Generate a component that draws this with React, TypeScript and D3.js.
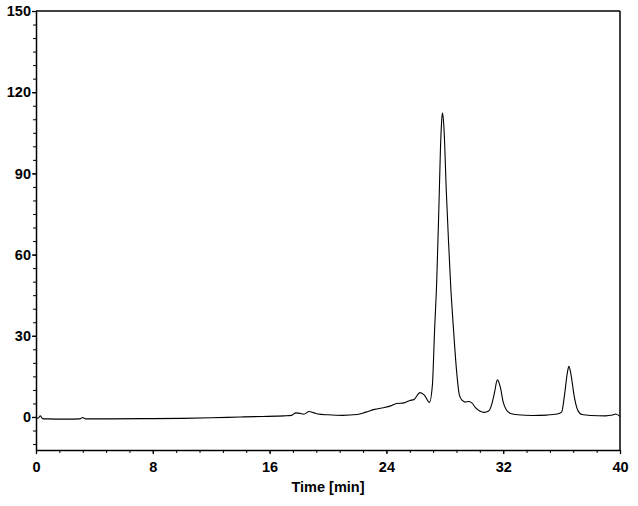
import React, { useRef, useEffect } from 'react';
import * as d3 from 'd3';

// retention time (min) and detector signal
const times = [
  0, 0.15, 0.3, 0.45, 0.8, 2, 3.0, 3.2, 3.4, 5, 8, 10, 12, 14, 15.5, 16.5, 17, 17.5,
  17.8, 18.1, 18.35, 18.7, 19.0, 19.3, 20, 21, 22, 22.6, 23.2, 23.8, 24.3, 24.7, 25.2,
  25.6, 25.9, 26.3, 26.6, 26.95, 27.15, 27.3, 27.45, 27.6, 27.7, 27.8, 27.85, 27.95,
  28.1, 28.25, 28.4, 28.6, 28.8, 29.0, 29.2, 29.4, 29.6, 29.85, 30.1, 30.4, 30.7, 31.0,
  31.2, 31.4, 31.6, 31.8, 32.0, 32.2, 32.5, 33.0, 34.0, 35.0, 35.7, 36.0, 36.2, 36.4,
  36.5, 36.65, 36.85, 37.1, 37.4, 38, 39, 39.5, 39.7, 40,
];
const signal = [
  -0.5, -0.4, 0.4, -0.6, -0.7, -0.8, -0.7, -0.2, -0.7, -0.7, -0.6, -0.5, -0.3, 0.0, 0.2, 0.3, 0.4, 0.6,
  1.5, 1.3, 1.0, 2.0, 1.6, 1.1, 0.8, 0.6, 0.9, 1.8, 2.8, 3.4, 4.1, 5.0, 5.2,
  6.1, 6.5, 9.0, 8.1, 5.4, 11.8, 32, 50.6, 78.3, 98.6, 110.5, 112.3, 106,
  83.9, 65.4, 48.8, 32.1, 17.4, 8.1, 6.1, 5.5, 5.7, 5.2, 3.5, 2.2, 1.7, 2.2,
  4.4, 8.9, 13.7, 11.1, 5.5, 2.8, 1.3, 0.8, 0.55, 0.7, 1.1, 1.8, 8.1, 16.6,
  18.7, 15.5, 8.1, 2.6, 0.9, 0.55, 0.4, 0.7, 1.1, 0.2,
];

const xTicks = [0, 8, 16, 24, 32, 40];
const yTicks = [0, 30, 60, 90, 120, 150];
const xMinorStep = 1.6;
const yMinorStep = 5;
const xLabel = 'Time [min]';

const Chromatogram = () => {
  const svgRef = useRef<SVGSVGElement | null>(null);

  useEffect(() => {
    const svg = d3.select(svgRef.current);
    svg.selectAll('*').remove();

    const width = 638;
    const height = 506;
    const margin = { top: 11, right: 18, bottom: 56, left: 36 };
    const w = width - margin.left - margin.right;
    const h = height - margin.top - margin.bottom;

    const x = d3.scaleLinear().domain([0, 40]).range([0, w]);
    const y = d3.scaleLinear().domain([-12.2, 150]).range([h, 0]);

    const g = svg.append('g').attr('transform', `translate(${margin.left},${margin.top})`);
    const font = '"Liberation Sans", Arial, sans-serif';

    // minor ticks
    const xMinor = d3.range(0, 40 + 0.001, xMinorStep);
    const yMinor = d3.range(-10, 150 + 0.001, yMinorStep);

    g.append('g')
      .attr('transform', `translate(0,${h})`)
      .call(d3.axisBottom(x).tickValues(xMinor).tickSize(3).tickFormat(() => ''))
      .call(a => a.select('.domain').remove())
      .selectAll('line').attr('stroke', '#000').attr('stroke-width', 1);

    g.append('g')
      .call(d3.axisLeft(y).tickValues(yMinor).tickSize(3).tickFormat(() => ''))
      .call(a => a.select('.domain').remove())
      .selectAll('line').attr('stroke', '#000').attr('stroke-width', 1);

    // major axes
    const xAxis = g.append('g')
      .attr('transform', `translate(0,${h})`)
      .call(d3.axisBottom(x).tickValues(xTicks).tickSize(4).tickSizeOuter(0).tickPadding(8));
    const yAxis = g.append('g')
      .call(d3.axisLeft(y).tickValues(yTicks).tickSize(4).tickSizeOuter(0).tickPadding(1));

    [xAxis, yAxis].forEach(a => {
      a.select('.domain').attr('stroke', '#000').attr('stroke-width', 1.5);
      a.selectAll('line').attr('stroke', '#000').attr('stroke-width', 1.3);
      a.selectAll('text')
        .attr('fill', '#000')
        .style('font-family', font)
        .style('font-size', '14.5px')
        .style('font-weight', 'bold');
    });

    // top and right frame
    g.append('line').attr('x1', 0).attr('x2', w).attr('y1', 0).attr('y2', 0)
      .attr('stroke', '#000').attr('stroke-width', 1.5);
    g.append('line').attr('x1', w).attr('x2', w).attr('y1', 0).attr('y2', h)
      .attr('stroke', '#000').attr('stroke-width', 1.5);

    // trace
    const pts: [number, number][] = times.map((t, i) => [t, signal[i]]);
    const line = d3.line<[number, number]>()
      .x(d => x(d[0]))
      .y(d => y(d[1]))
      .curve(d3.curveMonotoneX);

    g.append('path')
      .datum(pts)
      .attr('fill', 'none')
      .attr('stroke', '#000')
      .attr('stroke-width', 1.1)
      .attr('d', line);

    svg.append('text')
      .attr('x', margin.left + w / 2)
      .attr('y', 492)
      .attr('text-anchor', 'middle')
      .style('font-family', font)
      .style('font-size', '14.5px')
      .style('font-weight', 'bold')
      .text(xLabel);
  }, []);

  return (
    <svg
      ref={svgRef}
      width={638}
      height={506}
      style={{ position: 'absolute', left: 0, top: 0, background: '#fff' }}
    />
  );
};

export default function App() {
  return <Chromatogram />;
}
